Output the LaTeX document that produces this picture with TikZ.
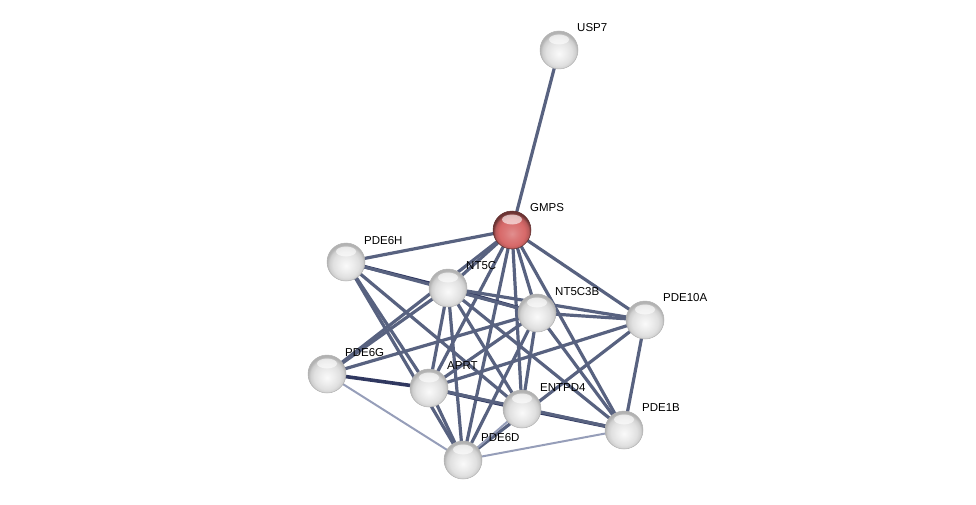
\documentclass[tikz,border=0pt]{standalone}
\usepackage{fontspec}
\setmainfont{Liberation Sans}
\usetikzlibrary{backgrounds}
\definecolor{edc}{RGB}{88,98,128}
\definecolor{edkc}{RGB}{48,56,96}
\definecolor{edlc}{RGB}{150,158,185}
\definecolor{rc}{RGB}{215,105,105}
\pgfdeclareradialshading{protball}{\pgfpoint{0bp}{-5bp}}{color(0bp)=(gray!4);color(9bp)=(gray!14);color(17bp)=(gray!24);color(22bp)=(gray!38);color(25bp)=(gray!60);color(50bp)=(gray!60)}
\pgfdeclareradialshading{seedball}{\pgfpoint{0bp}{-5bp}}{color(0bp)=(rc!75!white);color(9bp)=(rc!90!white);color(17bp)=(rc);color(22bp)=(rc!85!black);color(25bp)=(rc!50!black);color(50bp)=(rc!50!black)}
\begin{document}
\begin{tikzpicture}[x=1pt,y=-1pt,
  prot/.style={circle,minimum size=38pt,inner sep=0pt,shading=protball,draw=gray!60,line width=0.5pt},
  seed/.style={circle,minimum size=38pt,inner sep=0pt,shading=seedball,draw=rc!45!black,line width=0.5pt},
  lbl/.style={anchor=west,font=\fontsize{11.5}{13}\selectfont,inner sep=0pt},
  ed/.style={draw=edc,line width=3.2pt,line cap=round},
  edk/.style={draw=edkc,line width=3.6pt},
  edl/.style={draw=edlc,line width=2pt}]
\useasboundingbox (0,0) rectangle (976,505);
\node[prot] (USP7) at (559,50) {};
\node[seed] (GMPS) at (512,230) {};
\node[prot] (PDE6H) at (346,262) {};
\node[prot] (NT5C) at (448,288) {};
\node[prot] (NT5C3B) at (537,313) {};
\node[prot] (PDE10A) at (645,320) {};
\node[prot] (PDE6G) at (327,374) {};
\node[prot] (APRT) at (429,388) {};
\node[prot] (ENTPD4) at (522,409) {};
\node[prot] (PDE1B) at (624,430) {};
\node[prot] (PDE6D) at (463,460) {};
\foreach \n in {USP7,GMPS,PDE6H,NT5C,NT5C3B,PDE10A,PDE6G,APRT,ENTPD4,PDE1B,PDE6D}
  \fill[white,opacity=0.6] ([yshift=10.5pt]\n.center) ellipse (10pt and 5pt);
\begin{scope}[lbl]
\node at (577,28) {USP7};
\node at (530,208) {GMPS};
\node at (364,241) {PDE6H};
\node at (466,266) {NT5C};
\node at (555,292) {NT5C3B};
\node at (663,298) {PDE10A};
\node at (345,353) {PDE6G};
\node at (447,366) {APRT};
\node at (540,388) {ENTPD4};
\node at (642,408) {PDE1B};
\node at (481,438) {PDE6D};
\end{scope}
\begin{pgfonlayer}{background}
\foreach \b in {USP7,PDE6H,NT5C,NT5C3B,PDE10A,PDE6G,APRT,PDE6D,ENTPD4,PDE1B}
  \draw[ed] (GMPS.center) -- (\b.center);
\draw[edk] (PDE6H.center) -- (NT5C.center);
\draw[edk] (NT5C.center) -- (NT5C3B.center);
\draw[edk] (PDE6G.center) -- (APRT.center);
\draw[edk] (APRT.center) -- (ENTPD4.center);
\draw[edk] (ENTPD4.center) -- (PDE1B.center);
\foreach \a/\b in {PDE6H/NT5C3B,PDE6H/APRT,PDE6H/PDE6D,PDE6H/ENTPD4,
  NT5C/PDE10A,NT5C/PDE6G,NT5C/APRT,NT5C/PDE6D,NT5C/ENTPD4,NT5C/PDE1B,
  NT5C3B/PDE10A,NT5C3B/PDE6G,NT5C3B/APRT,NT5C3B/PDE6D,NT5C3B/ENTPD4,NT5C3B/PDE1B,
  PDE10A/APRT,PDE10A/PDE6D,PDE10A/PDE1B,
  APRT/PDE6D,APRT/PDE1B}
  \draw[ed] (\a.center) -- (\b.center);
\draw[edl] (PDE6G.center) -- (PDE6D.center);
\draw[edl] (PDE6D.center) -- (PDE1B.center);
\draw[edl] (PDE6D.center) -- (ENTPD4.center);
\end{pgfonlayer}
\end{tikzpicture}
\end{document}
